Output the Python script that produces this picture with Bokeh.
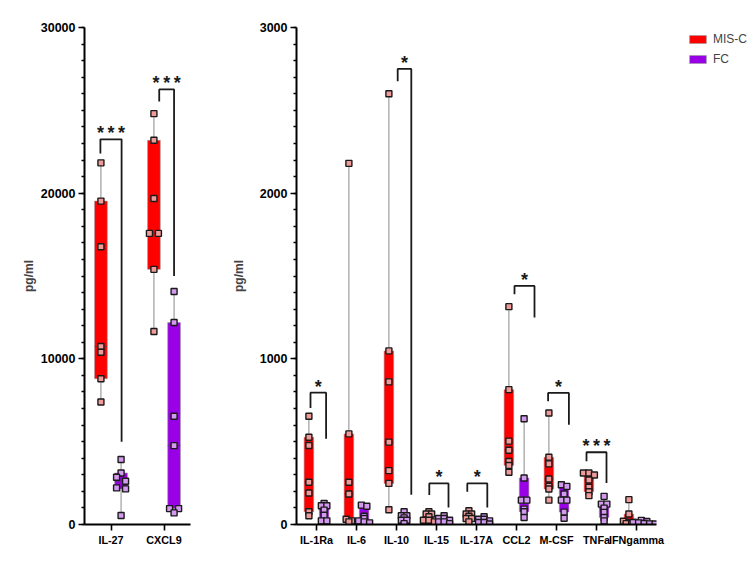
import numpy as np
from bokeh.plotting import figure
from bokeh.models import (FactorRange, Range1d, FixedTicker, ColumnDataSource,
                          Legend, LegendItem)
from bokeh.layouts import row
from bokeh.embed import file_html
from bokeh.resources import INLINE
from bokeh.core.properties import value

# ---------------- data ----------------
series = ["MIS-C", "FC"]

left_cats = ["IL-27", "CXCL9"]
left_misc = [
    [21830, 19520, 16770, 10740, 10400, 8800, 7390],
    [24800, 23190, 19680, 17570, 17570, 15400, 11650],
]
left_fc = [
    [3920, 3110, 2850, 2610, 2210, 2150, 540],
    [14060, 12190, 6530, 4760, 960, 960, 700],
]
left_yticks = [0, 10000, 20000, 30000]

right_cats = ["IL-1Ra", "IL-6", "IL-10", "IL-15", "IL-17A", "CCL2", "M-CSF", "TNFa", "IFNgamma"]
right_misc = [
    [653, 527, 477, 255, 190, 77, 53],
    [2180, 547, 255, 184, 32, 22, 16],
    [2600, 1048, 861, 497, 325, 248, 89],
    [77, 63, 63, 47, 26, 26, 16],
    [83, 63, 63, 50, 36, 36, 16],
    [1315, 814, 503, 448, 380, 356, 315],
    [673, 406, 366, 275, 230, 214, 147],
    [311, 311, 299, 269, 224, 198, 174],
    [150, 63, 20, 12, 12, 5, 3],
]
right_fc = [
    [127, 113, 113, 87, 56, 22, 22],
    [117, 110, 50, 36, 22, 16, 10],
    [77, 53, 53, 40, 26, 26, 5],
    [53, 36, 36, 26, 16, 16, 5],
    [47, 32, 32, 22, 12, 12, 3],
    [638, 281, 147, 147, 93, 77, 42],
    [240, 230, 184, 147, 147, 75, 38],
    [170, 123, 123, 99, 73, 42, 22],
    [25, 18, 12, 10, 6, 4, 3],
]
right_yticks = [0, 1000, 2000, 3000]

# significance annotations: category, stars, left-leg bottom, top, right-leg bottom
S3 = "*\u2009*\u2009*"
left_sig = [
    ("IL-27", S3, 22400, 23250, 5000),
    ("CXCL9", S3, 25540, 26265, 15000),
]
right_sig = [
    ("IL-1Ra", "*", 703, 796, 517),
    ("IL-10", "*", 2675, 2750, 180),
    ("IL-15", "*", 178, 248, 103),
    ("IL-17A", "*", 198, 248, 103),
    ("CCL2", "*", 1390, 1440, 1250),
    ("M-CSF", "*", 744, 794, 602),
    ("TNFa", S3, 382, 436, 250),
]
# bracket leg x-offsets (category units)
left_sig_x = [(-0.20, 0.20), (-0.09, 0.19)]
right_sig_x = [(-0.15, 0.24), (0.03, 0.37), (-0.18, 0.30), (-0.23, 0.27),
               (-0.05, 0.45), (-0.21, 0.31), (-0.25, 0.25)]

# ---------------- style ----------------
FONT = "Liberation Sans"
box_colors = ["#FF0000", "#9900E6"]
pt_colors = ["#F09A9A", "#D49AF0"]
dodge = [-0.19, 0.19]
box_w = 0.24


def spread(vals, px_per_unit, px_per_cat, pitch, thresh):
    vals = np.asarray(vals, float)
    order = np.argsort(-vals, kind="stable")
    rows = []
    for i in order:
        ypx = vals[i] * px_per_unit
        if rows and abs(rows[-1][0] - ypx) < thresh:
            rows[-1][1].append(i)
        else:
            rows.append([ypx, [i]])
    off = np.zeros(len(vals))
    for _, idx in rows:
        k = len(idx)
        for j, i in enumerate(idx):
            off[i] = (j - (k - 1) / 2) * pitch / px_per_cat
    return off


def make_panel(cats, groups, yticks, minor_step, width, height, mbl, mbr, mbt, mbb,
               px_per_unit, px_per_cat, pitch, thresh, sig, sig_x, label_standoff):
    p = figure(width=width, height=height, x_range=FactorRange(*cats),
               y_range=Range1d(0, yticks[-1]), toolbar_location=None,
               output_backend="svg", min_border_left=mbl, min_border_right=mbr,
               min_border_top=mbt, min_border_bottom=mbb)
    p.outline_line_color = None
    p.grid.visible = False
    p.background_fill_color = "white"
    for s in range(2):
        xs, lo, hi, med, mn, mx = [], [], [], [], [], []
        px, py = [], []
        for ci, vals in enumerate(groups[s]):
            xc = ci + 0.5 + dodge[s]
            q1, q2, q3 = np.percentile(vals, [25, 50, 75], method="weibull")
            xs.append(xc); lo.append(q1); hi.append(q3); med.append(q2)
            mn.append(min(vals)); mx.append(max(vals))
            off = spread(vals, px_per_unit, px_per_cat, pitch, thresh)
            px.extend(list(xc + off)); py.extend(vals)
        src = ColumnDataSource(dict(x=xs, lo=lo, hi=hi, med=med, mn=mn, mx=mx,
                                    x0=[x - box_w / 2 for x in xs],
                                    x1=[x + box_w / 2 for x in xs]))
        p.segment(x0="x", x1="x", y0="mn", y1="mx", source=src,
                  line_color="#8a8a8a", line_width=1)
        p.vbar(x="x", width=box_w, bottom="lo", top="hi", source=src,
               fill_color=box_colors[s], line_color="#9a9a9a", line_width=0.6)
        p.segment(x0="x0", x1="x1", y0="med", y1="med", source=src,
                  line_color="#444444", line_width=0.8, line_alpha=0.8)
        p.scatter(x=px, y=py, marker="square", size=6, fill_color=pt_colors[s],
                  line_color="#1a1a1a", line_width=1.4)
    # significance brackets
    for (cat, stars, yl, yt, yr), (ol, orr) in zip(sig, sig_x):
        ci = cats.index(cat) + 0.5
        xl, xr = ci + ol, ci + orr
        p.line(x=[xl, xl, xr, xr], y=[yl, yt, yt, yr], line_color="#1a1a1a",
               line_width=1.8)
        p.text(x=[(xl + xr) / 2], y=[yt], text=[stars], text_align="center",
               text_baseline="alphabetic", y_offset=-6,
               text_font=value(FONT), text_font_size="18px",
               text_font_style="bold", text_color="#1a1a1a")
    # axes
    p.yaxis.ticker = FixedTicker(ticks=yticks,
                                 minor_ticks=list(np.arange(0, yticks[-1] + minor_step / 2, minor_step)))
    for ax in (p.xaxis, p.yaxis):
        ax.axis_line_width = 2
        ax.axis_line_color = "black"
        ax.major_tick_line_width = 1.6
        ax.major_tick_line_color = "black"
        ax.major_tick_in = 0
        ax.major_tick_out = 6
        ax.major_label_text_font = FONT
        ax.major_label_text_font_style = "bold"
        ax.major_label_text_color = "black"
        ax.major_label_standoff = 3
    p.xaxis.major_label_text_font_size = "10.8px"
    p.yaxis.major_label_text_font_size = "12.5px"
    p.yaxis.minor_tick_line_width = 1.4
    p.yaxis.minor_tick_line_color = "black"
    p.yaxis.minor_tick_in = 0
    p.yaxis.minor_tick_out = 3
    p.yaxis.axis_label = "pg/ml"
    p.yaxis.axis_label_text_font = FONT
    p.yaxis.axis_label_text_font_size = "12px"
    p.yaxis.axis_label_text_font_style = "bold"
    p.yaxis.axis_label_standoff = label_standoff
    return p


H = 575
p1 = make_panel(left_cats, [left_misc, left_fc], left_yticks, 1000,
                196, H, 84, 6, 27, 51, 497 / 30000, 53, 9, 4.0,
                left_sig, left_sig_x, 2)
p2 = make_panel(right_cats, [right_misc, right_fc], right_yticks, 100,
                484, H, 100, 24, 27, 51, 497 / 3000, 40, 5.5, 2.0,
                right_sig, right_sig_x, 11)

# legend panel
p3 = figure(width=70, height=H, toolbar_location=None, output_backend="svg",
            x_range=(0, 1), y_range=(0, 1), min_border_left=2, min_border_top=27,
            min_border_right=0, min_border_bottom=51,
            x_axis_location=None, y_axis_location=None)
p3.grid.visible = False
p3.outline_line_color = None
lr = []
for s in range(2):
    lsrc = ColumnDataSource(dict(x=np.array([np.nan]), top=np.array([np.nan]),
                                 bottom=np.array([np.nan])))
    lr.append(p3.vbar(x="x", top="top", bottom="bottom", width=0.1, source=lsrc,
                      fill_color=box_colors[s], line_color="#9a9a9a", line_width=0.6))
legend = Legend(items=[LegendItem(label=series[s], renderers=[lr[s]]) for s in range(2)],
                location="top_left", margin=5, padding=0, border_line_alpha=0,
                background_fill_alpha=0, glyph_width=21, glyph_height=10,
                label_height=10, spacing=6, label_standoff=5,
                label_text_font=FONT, label_text_font_size="12px")
p3.add_layout(legend)

layout = row(p1, p2, p3)
open("out.html", "w").write(file_html(layout, INLINE))
